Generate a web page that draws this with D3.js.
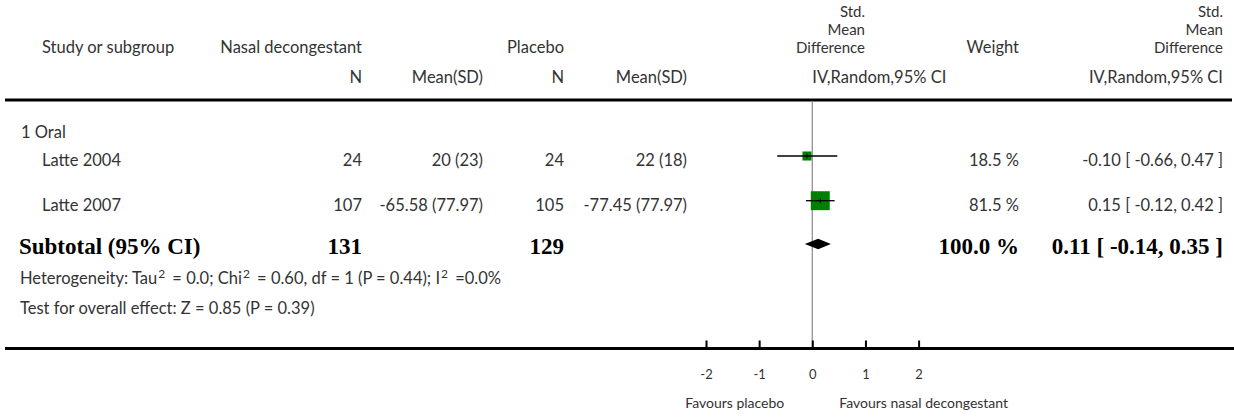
<!DOCTYPE html>
<html>
<head>
<meta charset="utf-8">
<script src="https://cdn.jsdelivr.net/npm/d3@7"></script>
<style>
  html, body { margin: 0; padding: 0; background: #fff; }
  svg text { font-family: Lato, "Open Sans", sans-serif; }
</style>
</head>
<body>
<svg id="chart" width="1234" height="419"></svg>
<script>
// ---- data ----
const studies = ["Latte 2004", "Latte 2007"];
const nTreat = [24, 107];
const meanTreat = [20, -65.58];
const sdTreat = [23, 77.97];
const nCtrl = [24, 105];
const meanCtrl = [22, -77.45];
const sdCtrl = [18, 77.97];
const weights = [18.5, 81.5];
const smd = [-0.10, 0.15];
const ciLow = [-0.66, -0.12];
const ciHigh = [0.47, 0.42];
const subgroupLabel = "1 Oral";
const subtotalN = [131, 129];
const pooledSmd = 0.11;
const pooledLow = -0.14;
const pooledHigh = 0.35;
const pooledWeight = 100.0;
const axisTicks = [-2, -1, 0, 1, 2];
const axisDomain = [-2, 2];
const effectHeader = ["Std.", "Mean", "Difference"];

// ---- layout ----
const svg = d3.select("#chart");
const bodyFill = "#333";
const bodySize = 16.5;
const serif = "'Liberation Serif', 'Times New Roman', serif";

const col = {
  study: 42, group: 21, subtotal: 19, notes: 20,
  n1: 362, msd1: 483, n2: 564, msd2: 687,
  weight: 1019, ci: 1223
};
const rows = { group: 131, studies: [156, 200.7], subtotal: 244, het: 279, test: 309 };
const topLineY = 100, axisY = 348.5;

const x = d3.scaleLinear().domain(axisDomain).range([706, 918.6]);
const boxSide = d3.scaleSqrt().domain([0, 100]).range([0, 21]);
const locale = d3.formatLocale({ decimal: ".", thousands: ",", grouping: [3], currency: ["", ""], minus: "-" });
const f2 = locale.format(".2f"), f1 = locale.format(".1f");
const fmtCI = (m, lo, hi) => `${f2(m)} [ ${f2(lo)}, ${f2(hi)} ]`;
const fmtMSD = (m, s) => `${m} (${s})`;

function txt(g, xPos, y, s, anchor = "start", opts = {}) {
  return g.append("text")
    .attr("x", xPos).attr("y", y)
    .attr("text-anchor", anchor)
    .attr("font-size", opts.size || bodySize)
    .attr("font-weight", opts.weight || "normal")
    .attr("fill", opts.fill || bodyFill)
    .style("font-family", opts.family || null)
    .text(s);
}

// ---- header ----
const hdr = svg.append("g");
const h1 = 53, h2 = 83;
const stackSize = 15, stackGap = 18.1;
txt(hdr, col.study, h1, "Study or subgroup");
txt(hdr, col.n1, h1, "Nasal decongestant", "end");
txt(hdr, col.n2, h1, "Placebo", "end");
txt(hdr, col.weight, h1, "Weight", "end");
effectHeader.forEach((s, i) => {
  const y = h1 - (effectHeader.length - 1 - i) * stackGap;
  txt(hdr, 865, y, s, "end", { size: stackSize });
  txt(hdr, col.ci, y, s, "end", { size: stackSize });
});
txt(hdr, col.n1, h2, "N", "end");
txt(hdr, col.msd1, h2, "Mean(SD)", "end");
txt(hdr, col.n2, h2, "N", "end");
txt(hdr, col.msd2, h2, "Mean(SD)", "end");
txt(hdr, x(0), h2, "IV,Random,95% CI", "start");
txt(hdr, col.ci, h2, "IV,Random,95% CI", "end");

// rule under the header
svg.append("line").attr("x1", 5).attr("x2", 1232).attr("y1", topLineY).attr("y2", topLineY)
  .attr("stroke", "#000").attr("stroke-width", 3);

// line of no effect
svg.append("line").attr("x1", x(0)).attr("x2", x(0)).attr("y1", topLineY + 1.5).attr("y2", axisY)
  .attr("stroke", "#999").attr("stroke-width", 1.4);

// ---- subgroup + studies ----
const body = svg.append("g");
txt(body, col.group, rows.group + 7, subgroupLabel);

studies.forEach((name, i) => {
  const ty = rows.studies[i] + 10;
  txt(body, col.study, ty, name);
  txt(body, col.n1, ty, nTreat[i], "end");
  txt(body, col.msd1, ty, fmtMSD(meanTreat[i], sdTreat[i]), "end");
  txt(body, col.n2, ty, nCtrl[i], "end");
  txt(body, col.msd2, ty, fmtMSD(meanCtrl[i], sdCtrl[i]), "end");
  txt(body, col.weight, ty, `${f1(weights[i])} %`, "end");
  txt(body, col.ci, ty, fmtCI(smd[i], ciLow[i], ciHigh[i]), "end");
});

// study markers: weighted box, CI whisker, point tick
const marks = svg.append("g");
const ci = studies.map((s, i) => ({ y: rows.studies[i], m: smd[i], lo: ciLow[i], hi: ciHigh[i], w: weights[i] }));
marks.selectAll("rect.box").data(ci).join("rect")
  .attr("class", "box")
  .attr("x", d => x(d.m) - boxSide(d.w) / 2)
  .attr("y", d => d.y - boxSide(d.w) / 2)
  .attr("width", d => boxSide(d.w))
  .attr("height", d => boxSide(d.w))
  .attr("fill", "#008000");
marks.selectAll("line.ci").data(ci).join("line")
  .attr("class", "ci")
  .attr("x1", d => x(d.lo)).attr("x2", d => x(d.hi))
  .attr("y1", d => d.y).attr("y2", d => d.y)
  .attr("stroke", "#000").attr("stroke-width", 1.3);
marks.selectAll("line.pt").data(ci).join("line")
  .attr("class", "pt")
  .attr("x1", d => x(d.m)).attr("x2", d => x(d.m))
  .attr("y1", d => d.y - 2.5).attr("y2", d => d.y + 2.5)
  .attr("stroke", "#000").attr("stroke-width", 1);

// ---- subtotal ----
const sy = rows.subtotal;
const bold = { size: 23, weight: "bold", fill: "#000", family: serif };
txt(body, col.subtotal, sy + 10, "Subtotal (95% CI)", "start", bold);
txt(body, col.n1, sy + 10, subtotalN[0], "end", bold);
txt(body, col.n2, sy + 10, subtotalN[1], "end", bold);
txt(body, col.weight, sy + 10, `${f1(pooledWeight)} %`, "end", bold);
txt(body, col.ci, sy + 10, fmtCI(pooledSmd, pooledLow, pooledHigh), "end", bold);

const dh = 5.3;
marks.append("path")
  .attr("d", `M${x(pooledLow)},${sy} L${x(pooledSmd)},${sy - dh} L${x(pooledHigh)},${sy} L${x(pooledSmd)},${sy + dh} Z`)
  .attr("fill", "#000");

// heterogeneity / overall effect notes, with raised exponents
function richText(g, xPos, y, parts) {
  const t = g.append("text").attr("x", xPos).attr("y", y)
    .attr("font-size", bodySize).attr("fill", bodyFill);
  let shift = 0;
  parts.forEach(p => {
    if (typeof p === "string") {
      t.append("tspan").attr("dy", shift).attr("dx", shift ? 3 : 0).text(p);
      shift = 0;
    } else {
      t.append("tspan").attr("dy", -6).attr("dx", 1).attr("font-size", 12).text(p.superscript);
      shift = 6;
    }
  });
  return t;
}
richText(body, col.notes, rows.het + 5, [
  "Heterogeneity: Tau", { superscript: "2" }, " = 0.0; Chi", { superscript: "2" },
  " = 0.60, df = 1 (P = 0.44); I", { superscript: "2" }, " =0.0%"
]);
richText(body, col.notes, rows.test + 5, ["Test for overall effect: Z = 0.85 (P = 0.39)"]);

// ---- axis ----
svg.append("line").attr("x1", 5).attr("x2", 1234).attr("y1", axisY).attr("y2", axisY)
  .attr("stroke", "#000").attr("stroke-width", 3);

const axis = d3.axisBottom(x)
  .tickValues(axisTicks)
  .tickFormat(d => String(d))
  .tickSizeInner(-7)
  .tickSizeOuter(0)
  .tickPadding(22);
const ax = svg.append("g").attr("transform", `translate(0,${axisY - 1})`).call(axis);
ax.select(".domain").remove();
ax.selectAll(".tick line").attr("stroke", "#000").attr("stroke-width", 2);
ax.selectAll(".tick text").attr("font-size", 13).attr("fill", bodyFill)
  .style("font-family", "Lato, 'Open Sans', sans-serif");

txt(svg, x(0) - 28, 408, "Favours placebo", "end", { size: 14 });
txt(svg, x(0) + 27, 408, "Favours nasal decongestant", "start", { size: 14 });
</script>
</body>
</html>
